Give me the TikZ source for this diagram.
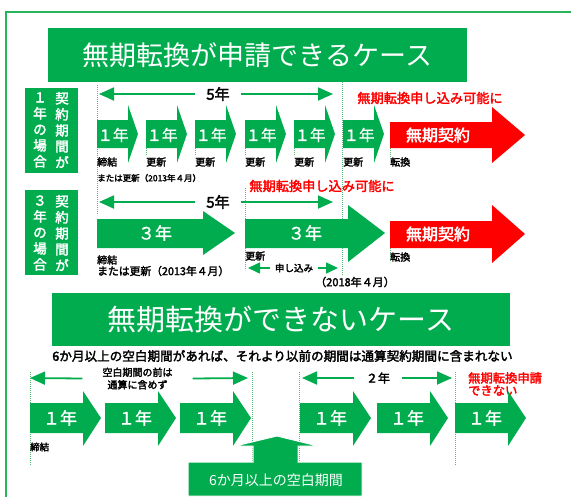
\documentclass[tikz,border=0pt]{standalone}
\usepackage{fontspec}
\newfontfamily\jp{Noto Sans CJK JP}
\newfontfamily\jpb[FakeBold=2.5]{Noto Sans CJK JP}
\newfontfamily\jpm[FakeBold=1]{Noto Sans CJK JP}
\usetikzlibrary{arrows.meta}
\definecolor{mygreen}{RGB}{0,172,78}
\definecolor{framegreen}{RGB}{40,180,90}
\definecolor{dotgreen}{RGB}{90,185,120}
\definecolor{myred}{RGB}{255,0,0}
\tikzset{
  titlebox/.style={fill=mygreen, text=white, inner sep=0pt},
  sidebox/.style={fill=mygreen, minimum width=53pt, minimum height=85pt, inner sep=0pt},
  vtext/.style={text=white, align=center, inner sep=0pt, font=\jpb\fontsize{13.5}{16}\selectfont},
  yrtext/.style={text=white, inner sep=0pt},
  lbl/.style={anchor=west, inner sep=0pt, font=\jpb\fontsize{10}{12}\selectfont},
  redlbl/.style={text=myred, inner sep=0pt, font=\jpb\fontsize{13.2}{15}\selectfont},
  spantext/.style={inner ysep=0pt, font=\jpb\fontsize{15}{18}\selectfont},
  spanline/.style={draw=mygreen, line width=1.8pt, -{Triangle[length=15pt,width=13pt]}},
  smallspan/.style={draw=mygreen, line width=1.5pt, -{Triangle[length=12pt,width=11pt]}},
  guide/.style={draw=dotgreen, line width=0.7pt, dash pattern=on 0.8pt off 1.2pt},
  garrow/.style={fill=mygreen},
  rarrow/.style={fill=myred}
}
\begin{document}
\begin{tikzpicture}[x=1pt,y=-1pt]
\useasboundingbox (0,0) rectangle (571,496);
\clip (0,0) rectangle (571,496);
% frame
\draw[framegreen, line width=2pt] (6,500) -- (6,12) -- (580,12);

% ---------- title 1
\node[titlebox, minimum width=419pt, minimum height=54pt, font=\jp\fontsize{27}{30}\selectfont] (title1) at (257.5,55) {無期転換が申請できるケース};

% side boxes
\node[sidebox] (box1) at (51.5,130.5) {};
\node[vtext] (v1a) at (62,130) {契\\約\\期\\間\\が};
\node[vtext] (v1b) at (40,130) {１\\年\\の\\場\\合};
\node[sidebox] (box2) at (51.5,232.5) {};
\node[vtext] (v2a) at (62,233) {契\\約\\期\\間\\が};
\node[vtext] (v2b) at (40,233) {３\\年\\の\\場\\合};

% guide lines (upper)
\draw[guide] (97,85) -- (97,215);
\foreach \gx in {146,195,245,294} \draw[guide] (\gx,148) -- (\gx,156);
\draw[guide] (342,82) -- (342,275);
\draw[guide] (390,148) -- (390,157);
\draw[guide] (390,248) -- (390,262);
\draw[guide] (245,188) -- (245,270);

% row 1 span
\coordinate (r1l) at (99,94);
\coordinate (r1r) at (333,94);
\node[spantext, inner xsep=11pt] (r1t) at (218,94) {5年};
\draw[spanline] (r1t.west) -- (r1l);
\draw[spanline] (r1t.east) -- (r1r);
\node[redlbl] (r1red) at (430,98) {無期転換申し込み可能に};

% row 1 arrows
\foreach \s [count=\i] in {97,146,195,245,294,343} {
  \fill[garrow] (\s,120) -- (\s+31,120) -- (\s+31,105) -- (\s+41,134) -- (\s+31,163) -- (\s+31,148) -- (\s,148) -- cycle;
  \node[yrtext, font=\jpm\fontsize{15.5}{18}\selectfont] (y1\i) at (\s+16,135) {１年};
}
\fill[rarrow] (390,122) -- (492,122) -- (492,107) -- (525,135) -- (492,163) -- (492,148) -- (390,148) -- cycle;
\node[text=white, inner sep=0pt, font=\jpb\fontsize{16}{18}\selectfont] (m1) at (438,135) {無期契約};

% row 1 labels
\node[lbl] (l1a) at (97,162) {締結};
\foreach \s [count=\i] in {146,195,245,294,343} \node[lbl] (l1u\i) at (\s,162) {更新};
\node[lbl] (l1t) at (390,162) {転換};
\node[lbl, font=\jpb\fontsize{8.5}{10}\selectfont] (l1b) at (97,178) {または更新（2013年４月）};

% row 2
\node[redlbl] (r2red) at (322,186) {無期転換申し込み可能に};
\coordinate (r2l) at (99,202);
\coordinate (r2r) at (333,202);
\node[spantext, inner xsep=11pt] (r2t) at (218,202) {5年};
\draw[spanline] (r2t.west) -- (r2l);
\draw[spanline] (r2t.east) -- (r2r);

\fill[garrow] (97,219) -- (203,219) -- (203,211) -- (235,233) -- (203,255) -- (203,248) -- (97,248) -- cycle;
\node[yrtext, font=\jpm\fontsize{17}{20}\selectfont] (y21) at (155,233) {３年};
\fill[garrow] (245,219) -- (348,219) -- (348,205) -- (385,233) -- (348,262) -- (348,248) -- (245,248) -- cycle;
\node[yrtext, font=\jpm\fontsize{17}{20}\selectfont] (y22) at (305,233) {３年};
\fill[rarrow] (390,221) -- (492,221) -- (492,205) -- (525,234) -- (492,263) -- (492,248) -- (390,248) -- cycle;
\node[text=white, inner sep=0pt, font=\jpb\fontsize{16}{18}\selectfont] (m2) at (438,234) {無期契約};

\node[lbl] (l2a) at (97,260) {締結};
\node[lbl, font=\jpb\fontsize{10.8}{13}\selectfont] (l2b) at (97,271) {または更新（2013年４月）};
\node[lbl] (l2u) at (245,256) {更新};
\node[lbl] (l2t) at (390,257) {転換};
\coordinate (msl) at (248,268);
\coordinate (msr) at (338,268);
\node[inner ysep=0pt, inner xsep=5pt, font=\jpb\fontsize{9.5}{11}\selectfont] (mst) at (294,268) {申し込み};
\draw[smallspan] (mst.west) -- (msl);
\draw[smallspan] (mst.east) -- (msr);
\node[inner sep=0pt, font=\jpb\fontsize{11}{13}\selectfont] (l2d) at (355,282) {（2018年４月）};

% ---------- title 2
\node[titlebox, minimum width=458pt, minimum height=53pt, font=\jp\fontsize{29}{32}\selectfont] (title2) at (281,319.5) {無期転換ができないケース};
\node[inner sep=0pt, font=\jpb\fontsize{12.6}{14}\selectfont] (sub) at (282.5,356) {6か月以上の空白期間があれば、それより以前の期間は通算契約期間に含まれない};

% guides lower
\draw[guide] (30,372) -- (30,465);
\draw[guide] (252,372) -- (252,462);
\draw[guide] (299,372) -- (299,462);
\draw[guide] (455,372) -- (455,465);

% spans lower
\coordinate (r3l) at (30,378);
\coordinate (r3r) at (248,378);
\node[inner ysep=0pt, inner xsep=20pt, align=center, font=\jpb\fontsize{10}{12.5}\selectfont] (r3t) at (137.5,378.5) {空白期間の前は\\通算に含めず};
\draw[spanline] (r3t.west) -- (r3l);
\draw[spanline] (r3t.east) -- (r3r);
\coordinate (r4l) at (302,378);
\coordinate (r4r) at (452,378);
\node[inner ysep=0pt, inner xsep=12pt, font=\jpb\fontsize{12}{14}\selectfont] (r4t) at (378,378) {２年};
\draw[spanline] (r4t.west) -- (r4l);
\draw[spanline] (r4t.east) -- (r4r);
\node[anchor=west, align=left, text=myred, inner sep=0pt, font=\jpb\fontsize{12.3}{12.5}\selectfont] (r4red) at (468,384) {無期転換申請\\できない};

% row 3 arrows
\foreach \s [count=\i] in {30,105,180,300,377,455} {
  \fill[garrow] (\s,403) -- (\s+53,403) -- (\s+53,391) -- (\s+71,418) -- (\s+53,446) -- (\s+53,433) -- (\s,433) -- cycle;
  \node[yrtext, font=\jpm\fontsize{17}{20}\selectfont] (y3\i) at (\s+30,418) {１年};
}
\node[lbl, font=\jpb\fontsize{9.5}{11}\selectfont] (l3a) at (30,447) {締結};

% callout
\filldraw[fill=mygreen, draw=white, line width=1pt] (188,462) -- (253,462) -- (253,446) -- (235,446) -- (277,436) -- (318,446) -- (298,446) -- (298,462) -- (362,462) -- (362,496) -- (188,496) -- cycle;
\node[text=white, inner sep=0pt, font=\jp\fontsize{14}{16}\selectfont] (callt) at (276,480) {6か月以上の空白期間};
\end{tikzpicture}
\end{document}
